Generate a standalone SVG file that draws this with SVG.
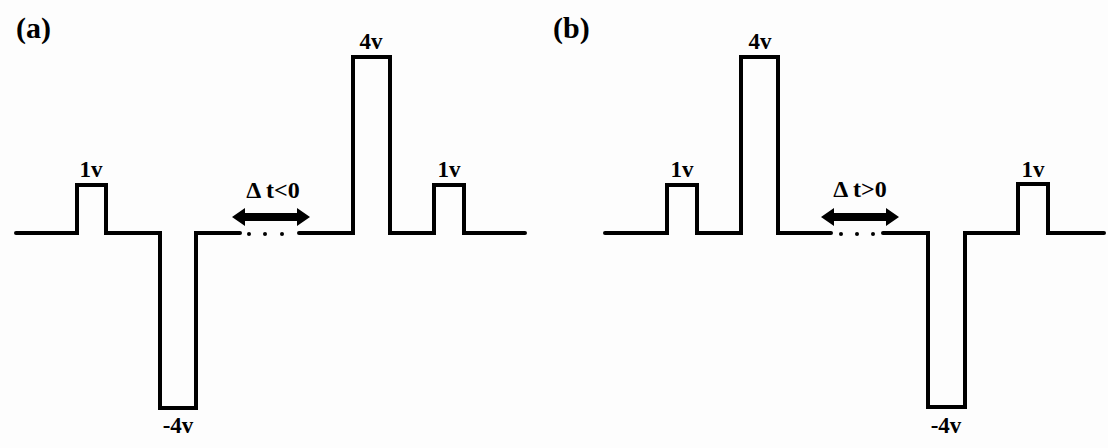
<svg xmlns="http://www.w3.org/2000/svg" width="1108" height="448" viewBox="0 0 1108 448">
<style>
.w{fill:none;stroke:#000;stroke-width:4;stroke-linejoin:miter;stroke-linecap:round}
.t{font-family:"Liberation Serif","Times New Roman",serif;font-weight:bold;font-size:23px;fill:#000;text-anchor:middle}
.dt{font-size:24px}
.p{font-family:"Liberation Serif","Times New Roman",serif;font-weight:bold;font-size:30px;fill:#000}
.d{fill:#000}
</style>
<defs>
<path id="arr" d="M0,0 L13,-9 L13,-4 L65,-4 L65,-9 L78,0 L65,9 L65,4 L13,4 L13,9 Z"/>
</defs>
<rect width="1108" height="448" fill="#fdfdfd"/>
<g id="panel-a">
<text class="p" x="16" y="38">(a)</text>
<g id="waveform-a">
<path class="w" d="M16,233 H77 V185 H106 V233 H160 V408 H196 V233 H240"/>
<path class="w" d="M299,233 H353 V57 H390 V233 H434 V185 H464 V233 H525"/>
<circle class="d" cx="249" cy="234" r="2"/>
<circle class="d" cx="265" cy="234" r="2"/>
<circle class="d" cx="282" cy="234" r="2"/>
</g>
<g id="arrow-a"><use href="#arr" x="232" y="217"/></g>
<text class="t" x="91" y="177">1v</text>
<text class="t" x="178" y="433">-4v</text>
<text class="t" x="371" y="49">4v</text>
<text class="t" x="449" y="177">1v</text>
<text class="t dt" x="273" y="198">Δ t&lt;0</text>
</g>
<g id="panel-b">
<text class="p" x="553" y="38">(b)</text>
<g id="waveform-b">
<path class="w" d="M605,233 H667 V185 H697 V233 H741 V57 H778 V233 H831"/>
<path class="w" d="M883,233 H928 V407 H965 V233 H1018 V184 H1048 V233 H1104"/>
<circle class="d" cx="841" cy="234" r="2"/>
<circle class="d" cx="857" cy="234" r="2"/>
<circle class="d" cx="873" cy="234" r="2"/>
</g>
<g id="arrow-b"><use href="#arr" x="821" y="217"/></g>
<text class="t" x="682" y="177">1v</text>
<text class="t" x="760" y="49">4v</text>
<text class="t" x="946" y="433">-4v</text>
<text class="t" x="1033" y="177">1v</text>
<text class="t dt" x="860" y="197">Δ t&gt;0</text>
</g>
</svg>
